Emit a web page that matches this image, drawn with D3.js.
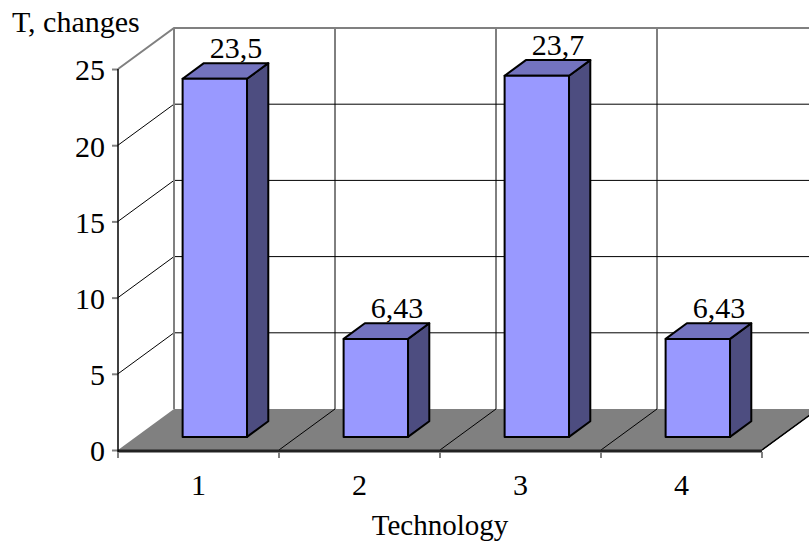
<!DOCTYPE html>
<html>
<head>
<meta charset="utf-8">
<script src="https://cdn.jsdelivr.net/npm/d3@7/dist/d3.min.js"></script>
<style>
  html, body { margin: 0; padding: 0; background: #fff; }
  svg { display: block; }
  text { font-family: "Liberation Serif", "Times New Roman", serif; fill: #000; }
</style>
</head>
<body>
<svg id="chart" width="809" height="545"></svg>
<script>
const categories = ["1", "2", "3", "4"];
const values = [23.5, 6.43, 23.7, 6.43];
const valueLabels = ["23,5", "6,43", "23,7", "6,43"];
const yTicks = [0, 5, 10, 15, 20, 25];
const yTitle = "T, changes";
const xTitle = "Technology";

const svg = d3.select("#chart");
const W = 809, H = 545;

const x = d3.scaleBand().domain(categories).range([118, 762]).paddingInner(0).paddingOuter(0);
const y = d3.scaleLinear().domain([0, 25]).range([450, 69]);
const DX = 56, DY = -41; // depth projection
const P = (px, py, d) => [px + DX * d, py + DY * d];
const bw = x.bandwidth();
const x0 = x.range()[0], x1 = x.range()[1];
const boundaries = categories.map(c => x(c)).concat([x1]);

const gWall = svg.append("g");
// left wall diagonal gridlines
yTicks.filter(t => t > 0 && t < 25).forEach(t => {
  const a = P(x0, y(t), 0), b = P(x0, y(t), 1);
  gWall.append("line").attr("x1", a[0]).attr("y1", a[1]).attr("x2", b[0]).attr("y2", b[1])
    .attr("stroke", "#000").attr("stroke-width", 1);
});
// back wall horizontal gridlines
yTicks.filter(t => t > 0 && t < 25).forEach(t => {
  const a = P(x0, y(t), 1), b = P(x1, y(t), 1);
  gWall.append("line").attr("x1", a[0]).attr("y1", a[1]).attr("x2", b[0]).attr("y2", b[1])
    .attr("stroke", "#000").attr("stroke-width", 1);
});
// back wall vertical gridlines
boundaries.slice(1).forEach(bx => {
  const a = P(bx, y(25), 1), b = P(bx, y(0), 1);
  gWall.append("line").attr("x1", a[0]).attr("y1", a[1]).attr("x2", b[0]).attr("y2", b[1])
    .attr("stroke", "#000").attr("stroke-width", 1);
});
// wall borders (grey)
{
  const a = P(x0, y(25), 0), b = P(x0, y(25), 1), c = P(x1, y(25), 1), d = P(x0, y(0), 1);
  gWall.append("path")
    .attr("d", `M${a[0]},${a[1]}L${b[0]},${b[1]}L${c[0]},${c[1]}M${b[0]},${b[1]}L${d[0]},${d[1]}`)
    .attr("fill", "none").attr("stroke", "#808080").attr("stroke-width", 2);
}

// floor
{
  const f = [P(x0, y(0), 0), P(x1, y(0), 0), P(x1, y(0), 1), P(x0, y(0), 1)];
  svg.append("path").attr("d", "M" + f.map(p => p.join(",")).join("L") + "Z")
    .attr("fill", "#808080").attr("stroke", "none");
  // floor diagonal gridlines at category boundaries
  boundaries.slice(1).forEach(bx => {
    const a = P(bx, y(0), 0), b = P(bx, y(0), 1);
    svg.append("line").attr("x1", a[0]).attr("y1", a[1]).attr("x2", b[0]).attr("y2", b[1])
      .attr("stroke", "#000").attr("stroke-width", 1);
  });
  // front floor edge
  svg.append("line").attr("x1", x0).attr("y1", y(0) + 1).attr("x2", x1).attr("y2", y(0) + 1)
    .attr("stroke", "#222").attr("stroke-width", 3);
}

// Y axis
const yAxis = svg.append("g").attr("transform", `translate(${x0},0)`)
  .call(d3.axisLeft(y).tickValues(yTicks).tickSize(6).tickPadding(7).tickFormat(d3.format("d")));
yAxis.select(".domain").remove();
yAxis.selectAll(".tick line").attr("stroke", "#808080").attr("stroke-width", 2);
yAxis.selectAll(".tick text").attr("font-size", 30).attr("dy", "0.36em")
  .style("font-family", "'Liberation Serif', serif").attr("fill", "#000");
svg.append("line").attr("x1", x0).attr("y1", y(25)).attr("x2", x0).attr("y2", y(0) + 3)
  .attr("stroke", "#000").attr("stroke-width", 1.5);

// X axis
const xAxis = svg.append("g").attr("transform", `translate(0,${y(0)})`)
  .call(d3.axisBottom(x).tickSize(0).tickPadding(24));
xAxis.select(".domain").remove();
xAxis.selectAll(".tick text").attr("font-size", 30)
  .style("font-family", "'Liberation Serif', serif").attr("fill", "#000");
boundaries.forEach(bx => {
  svg.append("line").attr("x1", bx).attr("y1", y(0) + 2).attr("x2", bx).attr("y2", y(0) + 8)
    .attr("stroke", "#808080").attr("stroke-width", 2);
});
// right floor edge
{
  const a = P(x1, y(0), 0), b = P(x1, y(0), 1);
  svg.append("line").attr("x1", a[0]).attr("y1", a[1]).attr("x2", b[0]).attr("y2", b[1])
    .attr("stroke", "#000").attr("stroke-width", 1.5);
}

// Bars
const d0 = 0.32, d1 = 0.70, bl = 0.29, br = 0.69;
const gBars = svg.append("g");
categories.forEach((c, i) => {
  const v = values[i];
  const xl = x(c) + bl * bw, xr = x(c) + br * bw;
  const yb = y(0), yt = y(v);
  const FL_b = P(xl, yb, d0), FR_b = P(xr, yb, d0), FR_t = P(xr, yt, d0), FL_t = P(xl, yt, d0);
  const BL_t = P(xl, yt, d1), BR_t = P(xr, yt, d1), BR_b = P(xr, yb, d1);
  const poly = pts => "M" + pts.map(p => p.join(",")).join("L") + "Z";
  gBars.append("path").attr("d", poly([FR_b, BR_b, BR_t, FR_t]))
    .attr("fill", "#4D4D80").attr("stroke", "#000").attr("stroke-width", 2).attr("stroke-linejoin", "round");
  gBars.append("path").attr("d", poly([FL_t, FR_t, BR_t, BL_t]))
    .attr("fill", "#7373BF").attr("stroke", "#000").attr("stroke-width", 2).attr("stroke-linejoin", "round");
  gBars.append("path").attr("d", poly([FL_b, FR_b, FR_t, FL_t]))
    .attr("fill", "#9999FF").attr("stroke", "#000").attr("stroke-width", 2).attr("stroke-linejoin", "round");
  const lx = (BL_t[0] + BR_t[0]) / 2;
  svg.append("text").attr("x", lx).attr("y", BL_t[1] - 5)
    .attr("text-anchor", "middle").attr("font-size", 30).text(valueLabels[i]);
});

// Titles
svg.append("text").attr("x", 12).attr("y", 32).attr("font-size", 30).text(yTitle);
svg.append("text").attr("x", (x0 + x1) / 2).attr("y", 535).attr("text-anchor", "middle")
  .attr("font-size", 29).text(xTitle);
</script>
</body>
</html>
